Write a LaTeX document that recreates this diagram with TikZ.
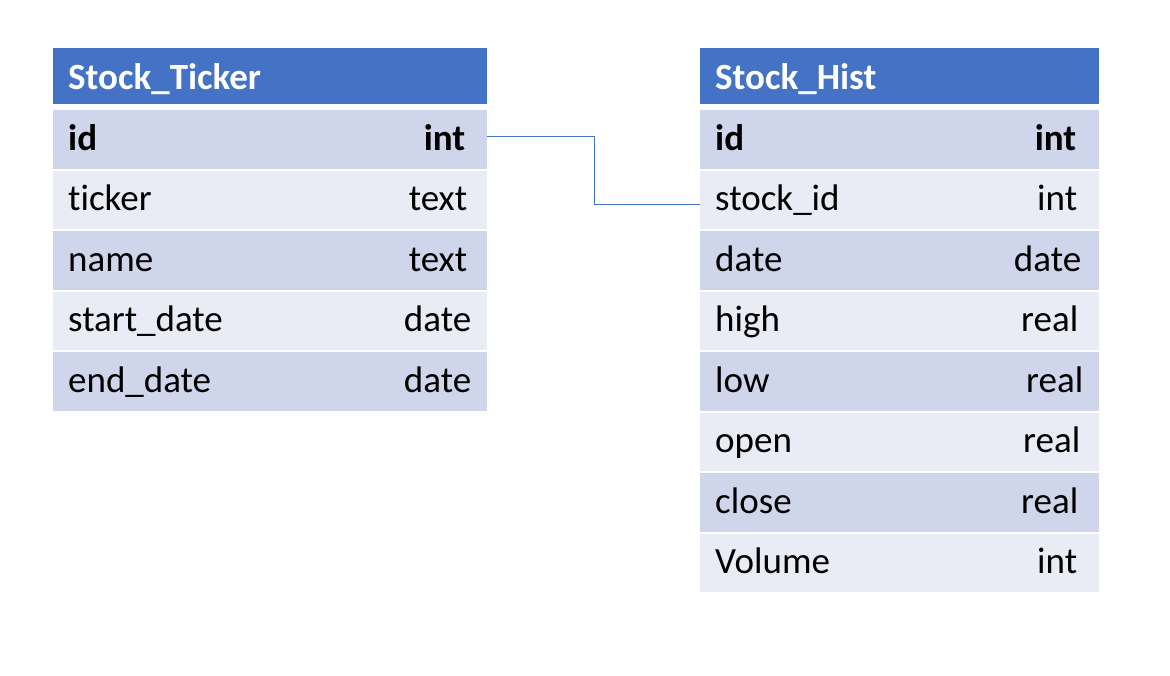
\documentclass[tikz,border=0pt]{standalone}
\usepackage{fontspec}
\setmainfont{Carlito}[Ligatures=NoCommon]
\definecolor{hdrblue}{RGB}{68,114,196}
\definecolor{rowdark}{RGB}{207,213,234}
\definecolor{rowlight}{RGB}{233,235,245}

\tikzset{
  fieldrow/.style={anchor=north west, inner xsep=15pt, inner ysep=0pt,
    minimum height=58.5pt, text height=30pt, text depth=8pt, align=left,
    font=\fontsize{37}{44}\selectfont},
  darkrow/.style={fieldrow, fill=rowdark},
  lightrow/.style={fieldrow, fill=rowlight},
  hdrrow/.style={fieldrow, fill=hdrblue, text=white, minimum height=56pt,
    text height=32pt, text depth=6pt, font=\bfseries\fontsize{37}{44}\selectfont},
  ftype/.style={anchor=base east, inner sep=0pt, font=\fontsize{37}{44}\selectfont},
  link/.style={draw=hdrblue, line width=1pt}
}

\begin{document}
\begin{tikzpicture}[x=1pt, y=-1pt]
  \useasboundingbox (0,0) rectangle (1170,676);
  % left table: Stock_Ticker
  \node[hdrrow, text width=404pt] (tk-head) at (53,48) {Stock\_Ticker};
  \node[darkrow, text width=404pt] (tk-id) at (53,110) {\textbf{id}};
  \node[lightrow, text width=404pt] (tk-ticker) at (53,170.5) {ticker};
  \node[darkrow, text width=404pt] (tk-name) at (53,231) {name};
  \node[lightrow, text width=404pt] (tk-start) at (53,291.5) {start\_date};
  \node[darkrow, text width=404pt] (tk-end) at (53,352) {end\_date};
  \node[ftype] (tk-id-t) at ([xshift=-22pt]tk-id.base east) {\textbf{int}};
  \node[ftype] (tk-ticker-t) at ([xshift=-20pt]tk-ticker.base east) {text};
  \node[ftype] (tk-name-t) at ([xshift=-20pt]tk-name.base east) {text};
  \node[ftype] (tk-start-t) at ([xshift=-16pt]tk-start.base east) {date};
  \node[ftype] (tk-end-t) at ([xshift=-16pt]tk-end.base east) {date};
  % right table: Stock_Hist
  \node[hdrrow, text width=369pt] (sh-head) at (700,48) {Stock\_Hist};
  \node[darkrow, text width=369pt] (sh-id) at (700,110) {\textbf{id}};
  \node[lightrow, text width=369pt] (sh-stock) at (700,170.5) {stock\_id};
  \node[darkrow, text width=369pt] (sh-date) at (700,231) {date};
  \node[lightrow, text width=369pt] (sh-high) at (700,291.5) {high};
  \node[darkrow, text width=369pt] (sh-low) at (700,352) {low};
  \node[lightrow, text width=369pt] (sh-open) at (700,412.5) {open};
  \node[darkrow, text width=369pt] (sh-close) at (700,473) {close};
  \node[lightrow, text width=369pt] (sh-vol) at (700,533.5) {Volume};
  \node[ftype] (sh-id-t) at ([xshift=-23pt]sh-id.base east) {\textbf{int}};
  \node[ftype] (sh-stock-t) at ([xshift=-22pt]sh-stock.base east) {int};
  \node[ftype] (sh-date-t) at ([xshift=-18pt]sh-date.base east) {date};
  \node[ftype] (sh-high-t) at ([xshift=-21pt]sh-high.base east) {real};
  \node[ftype] (sh-low-t) at ([xshift=-16pt]sh-low.base east) {real};
  \node[ftype] (sh-open-t) at ([xshift=-19pt]sh-open.base east) {real};
  \node[ftype] (sh-close-t) at ([xshift=-21pt]sh-close.base east) {real};
  \node[ftype] (sh-vol-t) at ([xshift=-22pt]sh-vol.base east) {int};
  % key link
  \draw[link] ([yshift=3pt]tk-id.east) -- ++(107,0) |- ([yshift=-4.5pt]sh-stock.west);
\end{tikzpicture}
\end{document}
